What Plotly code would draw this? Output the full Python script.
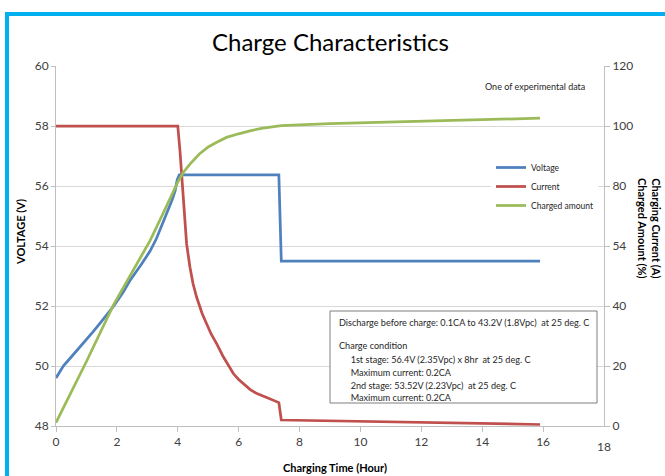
import plotly.graph_objects as go

# ---- data ----
time_v = [0, 0.12, 0.24, 0.5, 0.9, 1.2, 1.45, 1.88, 2.2, 2.43, 2.8, 3.09, 3.3, 3.64, 3.8, 3.91,
          3.98, 4.05, 7.32, 7.4, 15.9]
voltage = [49.6, 49.82, 50.0, 50.3, 50.76, 51.12, 51.43, 51.98, 52.45, 52.85, 53.38, 53.83,
           54.25, 55.06, 55.5, 55.83, 56.2, 56.37, 56.37, 53.5, 53.5]

time_c = [0, 4.0, 4.07, 4.13, 4.18, 4.29, 4.4, 4.5, 4.62, 4.8, 4.95, 5.1, 5.28, 5.5, 5.83, 6.0,
          6.37, 6.6, 6.92, 7.32, 7.4, 8, 10, 12, 14, 15.9]
current = [100, 100, 92, 83, 76.3, 60.7, 52.9, 47.5, 42.9, 37.5, 34, 30.6, 27.4, 23, 17.4, 15.5,
           12.2, 10.8, 9.5, 7.8, 2.0, 1.9, 1.5, 1.1, 0.8, 0.5]

time_g = [0, 1, 1.88, 3.09, 3.5, 4, 4.18, 4.4, 4.7, 5.0, 5.28, 5.6, 6.0, 6.37, 6.8, 7.4, 9, 11.4,
          14, 15.9]
charged = [1.1, 21.5, 40.2, 61.8, 70.5, 81.3, 84.5, 87.3, 90.6, 93.0, 94.6, 96.2, 97.4, 98.4,
           99.3, 100.1, 100.8, 101.4, 102, 102.6]

x_ticks = [0, 2, 4, 6, 8, 10, 12, 14, 16]
y2_ticks = [0, 20, 40, 60, 80, 100, 120]
y2_ticktext = ["0", "20", "40", "54", "80", "100", "120"]

box_lines = [
    "Discharge before charge: 0.1CA to 43.2V (1.8Vpc)  at 25 deg. C",
    "Charge condition",
    "\u00a0\u00a0\u00a0\u00a0\u00a01st stage: 56.4V (2.35Vpc) x 8hr  at 25 deg. C",
    "\u00a0\u00a0\u00a0\u00a0\u00a0Maximum current: 0.2CA",
    "\u00a0\u00a0\u00a0\u00a0\u00a02nd stage: 53.52V (2.23Vpc)  at 25 deg. C",
    "\u00a0\u00a0\u00a0\u00a0\u00a0Maximum current: 0.2CA",
]
box_line_px = [322, 345, 359, 372, 385, 397]

FONT = "Lato, 'Open Sans', sans-serif"
W, H = 665, 476
L, R, T, B = 56, 604, 66, 426


def px_x(p):
    return (p - L) / (R - L)


def px_y(p):
    return (B - p) / (B - T)


fig = go.Figure()
fig.add_trace(go.Scatter(x=time_v, y=voltage, name="Voltage", mode="lines",
                         line=dict(color="#4F81BD", width=2.75), yaxis="y"))
fig.add_trace(go.Scatter(x=time_c, y=current, name="Current", mode="lines",
                         line=dict(color="#C0504D", width=2.75), yaxis="y2"))
fig.add_trace(go.Scatter(x=time_g, y=charged, name="Charged amount", mode="lines",
                         line=dict(color="#9BBB59", width=2.75), yaxis="y2"))

annotations = [
    dict(text="Charge Characteristics", x=px_x(330), y=px_y(41), xref="paper", yref="paper",
         showarrow=False, font=dict(size=24, color="#000000", family=FONT),
         xanchor="center", yanchor="middle"),
    dict(text="One of experimental data", x=px_x(535), y=px_y(86), xref="paper", yref="paper",
         showarrow=False, font=dict(size=9, color="#262626", family=FONT),
         xanchor="center", yanchor="middle"),
    dict(text="<b>VOLTAGE (V)</b>", x=px_x(20), y=px_y(232), xref="paper", yref="paper",
         showarrow=False, textangle=-90, font=dict(size=11, color="#000000", family=FONT),
         xanchor="center", yanchor="middle"),
    dict(text="<b>Charging Current (A)<br>Charged Amount (%)</b>", x=px_x(649), y=px_y(228),
         xref="paper", yref="paper", showarrow=False, textangle=90,
         font=dict(size=11, color="#000000", family=FONT), xanchor="center", yanchor="middle"),
    dict(text="<b>Charging Time (Hour)</b>", x=px_x(335), y=px_y(467), xref="paper", yref="paper",
         showarrow=False, font=dict(size=11, color="#000000", family=FONT),
         xanchor="center", yanchor="middle"),
    dict(text="18", x=18, y=px_y(446), xref="x", yref="paper", showarrow=False,
         font=dict(size=12, color="#404040", family=FONT), xanchor="center", yanchor="middle"),
]
for txt, py in zip(box_lines, box_line_px):
    annotations.append(dict(text=txt, x=px_x(337), y=px_y(py), xref="paper", yref="paper",
                            showarrow=False, font=dict(size=9.1, color="#262626", family=FONT),
                            xanchor="left", yanchor="middle"))

shapes = [
    dict(type="rect", xref="paper", yref="paper", x0=px_x(330), x1=px_x(597),
         y0=px_y(403), y1=px_y(311), line=dict(color="#7F7F7F", width=1), fillcolor="white",
         layer="above"),
    dict(type="line", xref="paper", yref="paper", x0=px_x(5), x1=px_x(665),
         y0=px_y(14), y1=px_y(14), line=dict(color="#00B0F0", width=4)),
    dict(type="line", xref="paper", yref="paper", x0=px_x(7), x1=px_x(7),
         y0=px_y(12), y1=px_y(476), line=dict(color="#00B0F0", width=4)),
]

fig.update_layout(
    width=W, height=H,
    margin=dict(l=L, r=W - R, t=T, b=H - B),
    paper_bgcolor="white", plot_bgcolor="white",
    font=dict(family=FONT, size=12, color="#404040"),
    showlegend=True,
    legend=dict(x=px_x(491), y=px_y(153), xanchor="left", yanchor="top",
                bgcolor="white", font=dict(size=8.5, color="#262626", family=FONT),
                itemwidth=30, tracegroupgap=0),
    xaxis=dict(range=[0, 18], tickvals=x_ticks, ticks="outside", ticklen=5,
               tickcolor="#BFBFBF", showline=True, linecolor="#BFBFBF", showgrid=False,
               zeroline=False, tickfont=dict(size=12, color="#404040")),
    yaxis=dict(range=[48, 60], dtick=2, ticks="outside", ticklen=4, tickcolor="#BFBFBF",
               showline=True, linecolor="#BFBFBF", showgrid=True, gridcolor="#D9D9D9",
               zeroline=False, tickfont=dict(size=12, color="#404040")),
    yaxis2=dict(range=[0, 120], overlaying="y", side="right", tickvals=y2_ticks,
                ticktext=y2_ticktext, ticks="outside", ticklen=5, tickcolor="#BFBFBF",
                showline=True, linecolor="#BFBFBF", showgrid=False, zeroline=False,
                tickfont=dict(size=12, color="#404040")),
    annotations=annotations,
    shapes=shapes,
)

fig.write_html("out.html", config={"displayModeBar": False},
               post_script="document.body.style.margin='0px';document.body.style.padding='0px';")
